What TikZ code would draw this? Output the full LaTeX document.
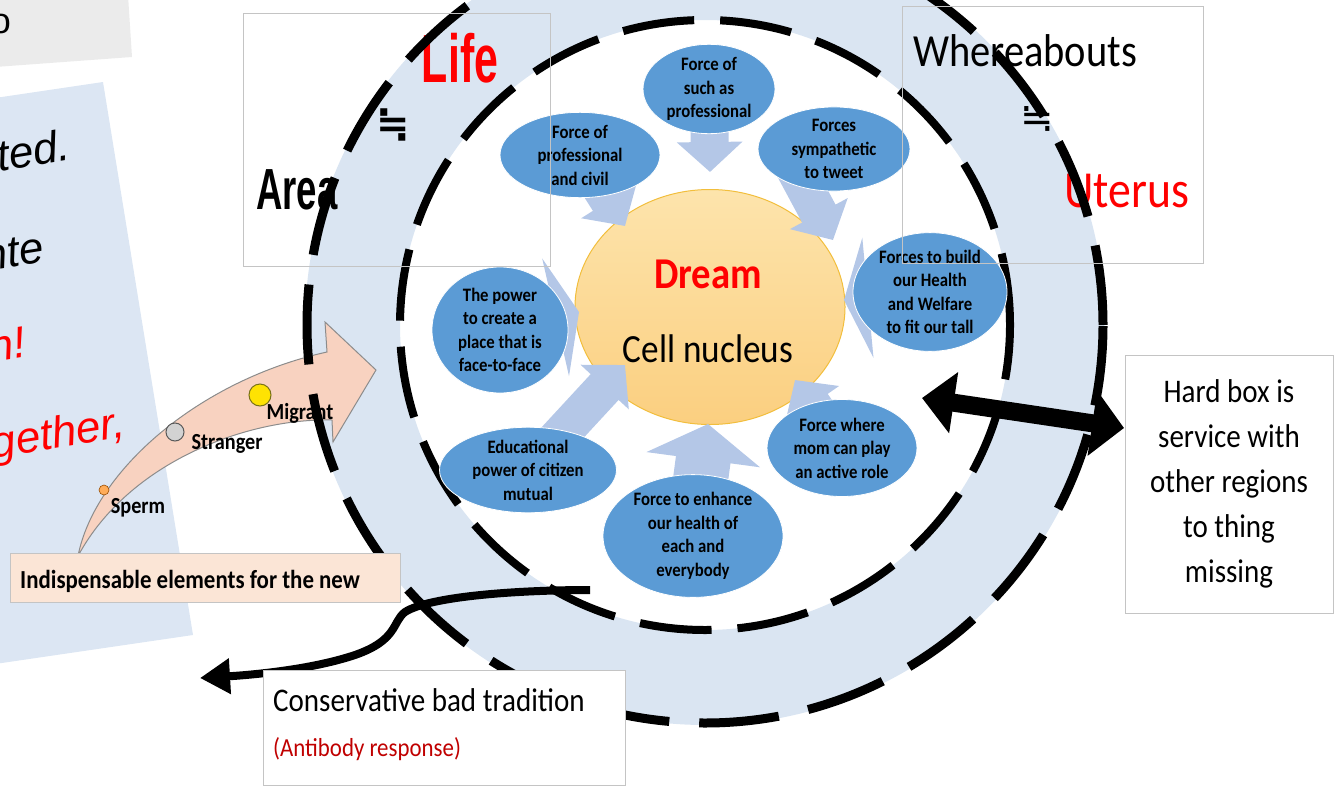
\documentclass[tikz,border=0pt]{standalone}
\usepackage{fontspec}
\usetikzlibrary{arrows.meta,shapes.geometric}
\newfontfamily\cf[FakeStretch=0.88]{Carlito}
\newfontfamily\nar[FakeStretch=0.63]{Liberation Sans}
\newfontfamily\arl{Liberation Sans}
\newfontfamily\dvs{DejaVu Sans}
\newcommand\fsz[2]{\fontsize{#1}{#2}\selectfont}
\definecolor{ringblue}{HTML}{DAE5F2}
\definecolor{panelblue}{HTML}{DCE6F3}
\definecolor{panelgray}{HTML}{EBEBEB}
\definecolor{ellblue}{HTML}{5B9BD5}
\definecolor{arrblue}{HTML}{B4C7E7}
\definecolor{boxgray}{HTML}{C4C4C4}
\definecolor{nucTop}{HTML}{FDE4AC}
\definecolor{nucBot}{HTML}{FBCF80}
\definecolor{nucLine}{HTML}{F2BE3C}
\definecolor{pinkfill}{HTML}{F8D2C0}
\definecolor{pinkline}{HTML}{8C8C8C}
\definecolor{bannerfill}{HTML}{FBE5D6}
\definecolor{lifered}{HTML}{FF0000}
\definecolor{darkred}{HTML}{C00000}
\begin{document}
\begin{tikzpicture}[x=1pt,y=-1pt,
 ell/.style={ellipse,fill=ellblue,draw=white,line width=0.8pt,inner sep=0pt,align=center,text=black,font=\cf\bfseries\fsz{19}{23.5}},
 feedA/.style={draw=arrblue,line width=38pt,-{Triangle[length=30pt,width=64pt]}},
 feedB/.style={draw=arrblue,line width=55pt,-{Triangle[length=36pt,width=113pt]}},
 feedC/.style={draw=arrblue,line width=40pt,-{Triangle[length=24pt,width=120pt]}},
 frame/.style={draw=boxgray,line width=1pt,inner sep=0pt},
 dashin/.style={draw=black,line width=8pt,dash pattern=on 72pt off 26pt},
 dashout/.style={draw=black,line width=9pt,dash pattern=on 80pt off 30pt},
 lefttxt/.style={anchor=base east,rotate=9,inner sep=0pt,font=\arl\itshape\fsz{44}{50}},
 lbl/.style={font=\cf\bfseries\fsz{23}{26},inner sep=0pt},
]
\useasboundingbox (0,0) rectangle (1337,795);
% left panels
\fill[panelgray] (-5,-5) -- (128,-5) -- (132,57) -- (-5,67) -- cycle;
\node[anchor=base east,font=\arl\fsz{36}{40},inner sep=0pt] (otxt) at (11,33) {o};
\fill[panelblue] (-5,98) -- (103,82) -- (193,635) -- (-5,664) -- cycle;
\node[lefttxt] (lt1) at (72,160) {ted.};
\node[lefttxt] (lt2) at (46,262) {nte};
\node[lefttxt,text=lifered] (lt3) at (28,357) {n!};
\node[lefttxt,text=lifered] (lt4) at (127,437) {gether,};
% ring
\coordinate (cc) at (705,325);
\fill[ringblue,even odd rule] (cc) circle[radius=400pt] (cc) circle[radius=305pt];
% box texts
\node[font=\nar\bfseries\fsz{68}{70},text=lifered,anchor=base,inner sep=0pt] (life) at (460,82) {Life};
\node[font=\nar\bfseries\fsz{58}{60},anchor=base,inner sep=0pt] (area) at (297,209) {Area};
\node[font=\dvs\bfseries\fsz{40}{40},inner sep=0pt] (eq1) at (393,125) {≒};
\node[font=\cf\fsz{46}{50},anchor=base,inner sep=0pt] (where) at (1025,66) {Whereabouts};
\node[font=\dvs\fsz{40}{40},inner sep=0pt] (eq2) at (1037,119) {≒};
\node[font=\cf\fsz{52}{56},text=lifered,anchor=base,inner sep=0pt] (uter) at (1127,207) {Uterus};
% pink curved arrow
\filldraw[fill=pinkfill,draw=pinkline,line width=1pt] (78,556) .. controls (95,470) and (200,380) .. (327,352) -- (325,322) -- (376,370) -- (333,442) -- (332,420) .. controls (250,418) and (130,460) .. (78,556) -- cycle;
\filldraw[fill=orange!65!white,draw=orange!60!black,line width=0.6pt] (104,490) circle[radius=5pt];
\filldraw[fill=gray!35,draw=gray!70!black,line width=1pt] (175,432) circle[radius=9pt];
\filldraw[fill=yellow!85!orange,draw=olive!80!black,line width=1pt] (260,395) circle[radius=11pt];
\node[lbl] (sperm) at (138,508) {Sperm};
\node[lbl] (strg) at (227,444) {Stranger};
\node[lbl] (migr) at (300,413) {Migrant};
% dashed circles
\draw[dashin] (cc) circle[radius=305pt];
\draw[dashout] (cc) circle[radius=398pt];
% nucleus
\node[ellipse,minimum width=270pt,minimum height=235pt,top color=nucTop,bottom color=nucBot,draw=nucLine,line width=1pt] (nuc) at (710,307) {};
\node[font=\cf\bfseries\fsz{44}{48},text=lifered,anchor=base,inner sep=0pt] (dream) at (708,288) {Dream};
\node[font=\cf\fsz{40}{44},anchor=base,inner sep=0pt] (cell) at (708,362) {Cell nucleus};
% ellipse centres and arrow tips
\coordinate (c1) at (709,89);
\coordinate (c2) at (580,155);
\coordinate (c3) at (834,149);
\coordinate (c4) at (930,292);
\coordinate (c5) at (500,330);
\coordinate (c6) at (528,470);
\coordinate (c7) at (693,536);
\coordinate (c8) at (842,448);
\coordinate (s3) at (790,160);
\coordinate (t1) at (710,172);
\coordinate (t2) at (625,226);
\coordinate (t3) at (833,240);
\coordinate (t4) at (844,300);
\coordinate (t5) at (579,312);
\coordinate (t6) at (625,365);
\coordinate (t7) at (708,424);
\coordinate (t8) at (795,380);
\draw[feedA] (c1) -- (t1);
\draw[feedA] (c2) -- (t2);
\draw[feedA] (s3) -- (t3);
\draw[feedC] (c4) -- (t4);
\draw[feedC] (c5) -- (t5);
\draw[feedA] (c6) -- (t6);
\draw[feedB] (c7) -- (t7);
\draw[feedA] (c8) -- (t8);
% ellipses
\node[ell,minimum width=132pt,minimum height=78pt] (e1) at (c1) {Force of\\such as\\professional};
\node[ell,minimum width=160pt,minimum height=80pt] (e2) at (c2) {Force of\\professional\\and civil};
\node[ell,minimum width=152pt,minimum height=68pt] (e3) at (c3) {Forces\\sympathetic\\to tweet};
\node[ell,minimum width=154pt,minimum height=115pt] (e4) at (c4) {Forces to build\\our Health\\and Welfare\\to fit our tall};
\node[ell,minimum width=136pt,minimum height=126pt] (e5) at (c5) {The power\\to create a\\place that is\\face-to-face};
\node[ell,minimum width=177pt,minimum height=75pt] (e6) at (c6) {Educational\\power of citizen\\mutual};
\node[ell,minimum width=180pt,minimum height=92pt] (e7) at (c7) {Force to enhance\\our health of\\each and\\everybody};
\node[ell,minimum width=150pt,minimum height=97pt] (e8) at (c8) {Force where\\mom can play\\an active role};
% frames
\node[frame,minimum width=307pt,minimum height=253pt,anchor=north west] (lbox) at (243,13) {};
\node[frame,minimum width=301pt,minimum height=257pt,anchor=north west] (rbox) at (902,6) {};
% banner
\node[draw=boxgray,fill=bannerfill,line width=1pt,inner sep=0pt,minimum width=390pt,minimum height=49pt,anchor=north west] (banner) at (10,553) {};
\node[font=\cf\bfseries\fsz{26}{28},anchor=base west,inner sep=0pt] (bantxt) at (20,588) {Indispensable elements for the new};
% black curved arrow
\coordinate (bs) at (590,590);
\coordinate (be) at (200,678);
\draw[line width=8pt,-{Triangle[length=30pt,width=34pt]}] (bs) .. controls (520,590) and (430,596) .. (405,612) .. controls (392,622) and (398,640) .. (355,655) .. controls (310,670) and (250,675) .. (be);
% conservative box
\node[draw=boxgray,fill=white,line width=1pt,inner sep=0pt,minimum width=362pt,minimum height=115pt,anchor=north west] (cons) at (263,670) {};
\node[font=\cf\fsz{33}{36},anchor=base west,inner sep=0pt] (constxt) at (273,711) {Conservative bad tradition};
\node[font=\cf\fsz{26}{30},text=darkred,anchor=base west,inner sep=0pt] (antib) at (273,756) {(Antibody response)};
% double arrow and hard box
\coordinate (da) at (922,398);
\coordinate (db) at (1124,428);
\draw[line width=18pt,{Triangle[length=32pt,width=60pt]}-{Triangle[length=32pt,width=64pt]}] (da) -- (db);
\node[draw=boxgray,fill=white,line width=1pt,minimum width=208pt,minimum height=258pt,font=\cf\fsz{33}{45},align=center] (hard) at (1229,484) {Hard box is\\service with\\other regions\\to thing\\missing};
\end{tikzpicture}
\end{document}
